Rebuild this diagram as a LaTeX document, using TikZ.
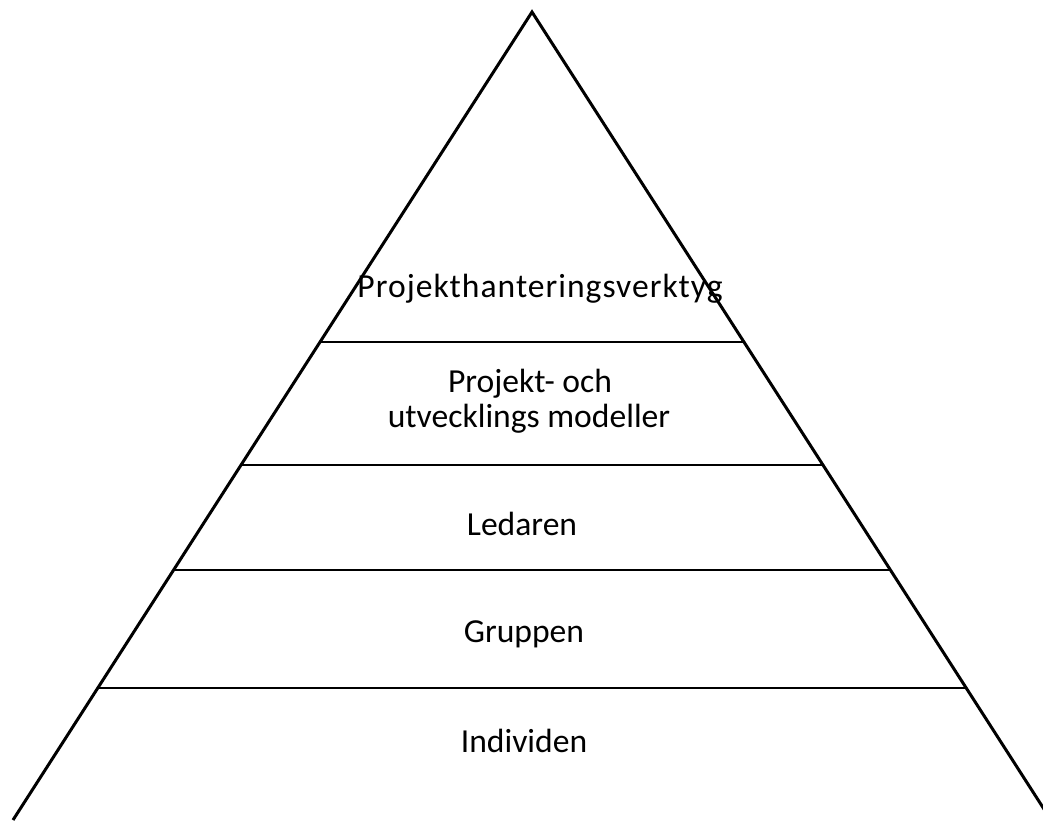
\documentclass[tikz,border=0pt]{standalone}
\usepackage{fontspec}
\setmainfont{Carlito}
\usetikzlibrary{calc}

\begin{document}
\begin{tikzpicture}[x=0.5pt,y=-0.5pt]
  \useasboundingbox (0,0) rectangle (1043,820);
  \clip (0,0) rectangle (1043,820);

  \coordinate (top) at (532,12);
  \coordinate (left) at (13,820);
  \coordinate (right) at (1051,820);

  \draw[line width=1.5pt] (left) -- (top) -- (right);
  \foreach \t in {0.4084,0.5606,0.6906,0.8366}
    \draw[line width=0.75pt] ($(top)!\t!(left)$) -- ($(top)!\t!(right)$);

  \begin{scope}[every node/.style={anchor=base,inner sep=0pt,font=\fontsize{16.8}{20}\selectfont}]
    \node (verktyg) at (540,297) {\addfontfeature{LetterSpace=3}Projekthanteringsverktyg};
    \node (modeller1) at (530,392) {Projekt- och};
    \node (modeller2) at (529,427) {utvecklings modeller};
    \node (ledaren) at (522,535) {Ledaren};
    \node (gruppen) at (524,642) {Gruppen};
    \node (individen) at (524,752) {Individen};
  \end{scope}
\end{tikzpicture}
\end{document}
